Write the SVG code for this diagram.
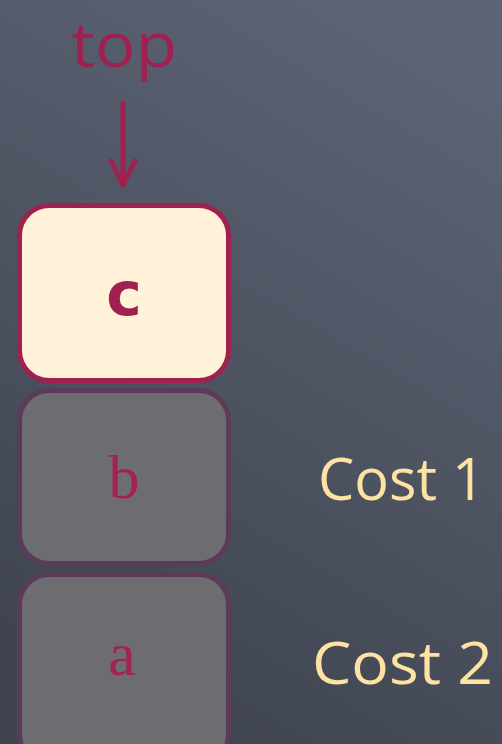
<svg xmlns="http://www.w3.org/2000/svg" width="502" height="744" viewBox="0 0 502 744">
  <defs>
    <linearGradient id="bg" x1="0.7" y1="0" x2="0.3" y2="1">
      <stop offset="0" stop-color="#5c6374"/>
      <stop offset="0.45" stop-color="#4f5563"/>
      <stop offset="1" stop-color="#3e434f"/>
    </linearGradient>
    <marker id="arrow" viewBox="0 0 10 10" refX="9" refY="5" markerWidth="10" markerHeight="10" markerUnits="userSpaceOnUse" orient="auto" overflow="visible">
      <path d="M -15 -7 L 9 5 L -15 17" fill="none" stroke="#a0214f" stroke-width="5" stroke-linecap="round" stroke-linejoin="round"/>
    </marker>
    <style>
      .hand { font-family: "Open Sans", "Noto Sans", "DejaVu Sans", sans-serif; font-weight: 500; }
      .faded rect { fill: #6d6d71; stroke: #5c3b5a; stroke-width: 5; }
      .faded text { fill: #a3224f; font-family: "Liberation Serif", "DejaVu Serif", serif; font-size: 62px; text-anchor: middle; }
      .cost { fill: #fde2a3; font-size: 58px; }
    </style>
  </defs>
  <rect width="502" height="744" fill="url(#bg)"/>

  <g id="label-top">
    <text class="hand" x="124" y="67" font-size="62" fill="#a0214f" text-anchor="middle" textLength="106" lengthAdjust="spacingAndGlyphs">top</text>
  </g>

  <g id="connectors">
    <line x1="123" y1="103" x2="123" y2="185" stroke="#a0214f" stroke-width="5" stroke-linecap="round" marker-end="url(#arrow)"/>
  </g>

  <g id="node-a" class="faded">
    <rect x="19.5" y="574.5" width="209" height="190" rx="30"/>
    <text x="122" y="675" font-size="70">a</text>
  </g>

  <g id="node-b" class="faded">
    <rect x="19.5" y="390.5" width="209" height="173" rx="30"/>
    <text x="124" y="498">b</text>
  </g>

  <g id="node-c">
    <rect x="19.5" y="205.5" width="209" height="175" rx="30" fill="#fff2d9" stroke="#a0214f" stroke-width="5"/>
    <text x="124" y="315" font-family="'DejaVu Sans', sans-serif" font-weight="bold" font-size="60" fill="#a0214f" text-anchor="middle">c</text>
  </g>

  <g id="label-cost1">
    <text class="hand cost" x="318" y="500" textLength="167" lengthAdjust="spacingAndGlyphs">Cost 1</text>
  </g>
  <g id="label-cost2">
    <text class="hand cost" x="312" y="684" textLength="181" lengthAdjust="spacingAndGlyphs">Cost 2</text>
  </g>
</svg>
